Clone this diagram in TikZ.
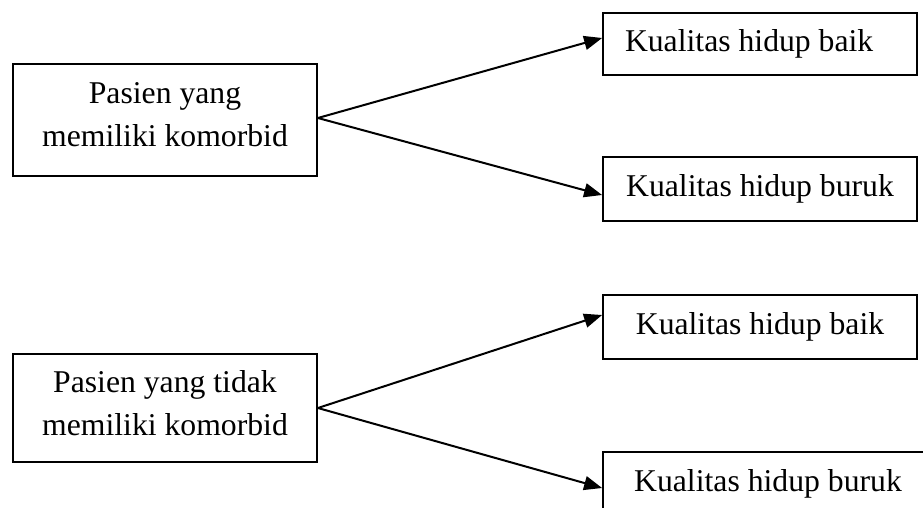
\documentclass[tikz,border=0pt]{standalone}
\usepackage{fontspec}
\setmainfont{Liberation Serif}
\usetikzlibrary{arrows.meta}
\begin{document}
\begin{tikzpicture}[x=1pt,y=-1pt,
  box/.style={draw=black,line width=1.8pt,fill=white,font=\fontsize{31.7}{43}\selectfont,inner sep=0pt,align=center},
  srcbox/.style={box,minimum width=304pt,text depth=10pt},
  outbox/.style={box,minimum width=314pt,minimum height=64pt},
  conn/.style={line width=2pt,-{Triangle[length=18pt,width=14pt]}}]
\useasboundingbox (0,0) rectangle (923,508);
\clip (0,0) rectangle (923,508);
\node[srcbox,minimum height=112pt] (A) at (165,120) {Pasien yang\\memiliki komorbid};
\node[outbox,minimum height=62pt] (B1) at (760,44) {\makebox[270pt][l]{Kualitas hidup baik}};
\node[outbox] (B2) at (760,189) {Kualitas hidup buruk};
\node[srcbox,minimum height=108pt] (C) at (165,408) {Pasien yang tidak\\memiliki komorbid};
\node[outbox] (D1) at (760,327) {Kualitas hidup baik};
\node[outbox,minimum width=330pt] (D2) at (768,484) {Kualitas hidup buruk};
\draw[conn] ([yshift=2pt]A.east) -- ([yshift=6pt]B1.west);
\draw[conn] ([yshift=2pt]A.east) -- ([yshift=-6pt]B2.west);
\draw[conn] (C.east) -- ([yshift=12pt]D1.west);
\draw[conn] (C.east) -- ([yshift=-4pt]D2.west);
\end{tikzpicture}
\end{document}
